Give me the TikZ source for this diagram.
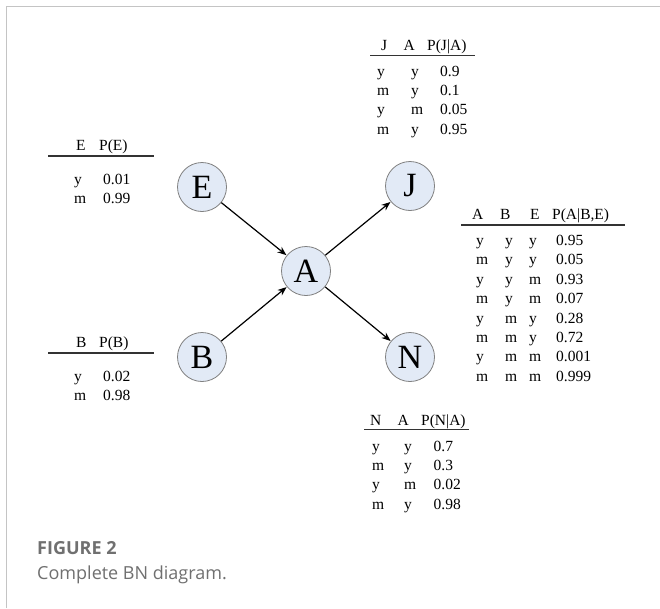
\documentclass[tikz,border=0pt]{standalone}
\usepackage{fontspec}
\setmainfont{Liberation Serif}
\newfontfamily\capfont{Open Sans}
\usetikzlibrary{arrows.meta}
\definecolor{nodefill}{HTML}{E2EAF6}
\definecolor{nodeline}{HTML}{808080}
\definecolor{framegray}{HTML}{C4C4C4}
\definecolor{capgray}{HTML}{707070}
\tikzset{
  bnnode/.style={circle, draw=nodeline, line width=0.8pt, fill=nodefill, minimum size=49pt, inner sep=0pt, font=\fontsize{34}{38}\selectfont},
  bnarrow/.style={line width=1.2pt, -{Stealth[length=9pt,width=7pt]}, shorten >=0.3pt},
  tabtext/.style={anchor=base west, inner sep=0pt, font=\fontsize{15.5}{19.4}\selectfont},
  tabrule/.style={line width=1.1pt, draw=black!80},
}
\newcommand\tcell[2]{\makebox[#1][l]{#2}}
\begin{document}
\begin{tikzpicture}[x=1pt,y=-1pt]
\useasboundingbox (0,0) rectangle (660,608);
\fill[white] (0,0) rectangle (660,608);
\draw[framegray, line width=1.2pt] (6.8,608) -- (6.8,6.8) -- (660,6.8);

% nodes
\node[bnnode] (E) at (202,187) {E};
\node[bnnode] (J) at (410,186) {J};
\node[bnnode] (A) at (306,271) {A};
\node[bnnode] (B) at (202,357) {B};
\node[bnnode] (N) at (410,357) {N};

\draw[bnarrow] (E) -- (A);
\draw[bnarrow] (B) -- (A);
\draw[bnarrow] (A) -- (J);
\draw[bnarrow] (A) -- (N);

% E table
\node[tabtext] (eh1) at (76,150) {E};
\node[tabtext] (eh2) at (99,150) {P(E)};
\draw[tabrule] (48,156) -- (154,156);
\node[tabtext] (eb) at (74,184) {\begin{tabular}[t]{@{}l@{}}
\tcell{29pt}{y}0.01\\
\tcell{29pt}{m}0.99
\end{tabular}};

% B table
\node[tabtext] (bh1) at (76,347) {B};
\node[tabtext] (bh2) at (99,347) {P(B)};
\draw[tabrule] (48,353) -- (154,353);
\node[tabtext] (bb) at (74,381) {\begin{tabular}[t]{@{}l@{}}
\tcell{29pt}{y}0.02\\
\tcell{29pt}{m}0.98
\end{tabular}};

% J table
\node[tabtext] (jh1) at (381,50.5) {J};
\node[tabtext] (jh2) at (403.5,50.5) {A};
\node[tabtext] (jh3) at (427,50.5) {P(J|A)};
\draw[tabrule] (370,55.5) -- (475,55.5);
\node[tabtext] (jb) at (377,76) {\begin{tabular}[t]{@{}l@{}}
\tcell{34pt}{y}\tcell{29pt}{y}0.9\\
\tcell{34pt}{m}\tcell{29pt}{y}0.1\\
\tcell{34pt}{y}\tcell{29pt}{m}0.05\\
\tcell{34pt}{m}\tcell{29pt}{y}0.95
\end{tabular}};

% A table
\node[tabtext] (ah1) at (472,219.5) {A};
\node[tabtext] (ah2) at (500,219.5) {B};
\node[tabtext] (ah3) at (530,219.5) {E};
\node[tabtext] (ah4) at (552,219.5) {P(A|B,E)};
\draw[tabrule] (461,225) -- (625,225);
\node[tabtext] (ab) at (476,245.5) {\begin{tabular}[t]{@{}l@{}}
\tcell{29pt}{y}\tcell{24pt}{y}\tcell{27pt}{y}0.95\\
\tcell{29pt}{m}\tcell{24pt}{y}\tcell{27pt}{y}0.05\\
\tcell{29pt}{y}\tcell{24pt}{y}\tcell{27pt}{m}0.93\\
\tcell{29pt}{m}\tcell{24pt}{y}\tcell{27pt}{m}0.07\\
\tcell{29pt}{y}\tcell{24pt}{m}\tcell{27pt}{y}0.28\\
\tcell{29pt}{m}\tcell{24pt}{m}\tcell{27pt}{y}0.72\\
\tcell{29pt}{y}\tcell{24pt}{m}\tcell{27pt}{m}0.001\\
\tcell{29pt}{m}\tcell{24pt}{m}\tcell{27pt}{m}0.999
\end{tabular}};

% N table
\node[tabtext] (nh1) at (370,425) {N};
\node[tabtext] (nh2) at (397.5,425) {A};
\node[tabtext] (nh3) at (421,425) {P(N|A)};
\draw[tabrule] (364,429.6) -- (469,429.6);
\node[tabtext] (nb) at (372,451) {\begin{tabular}[t]{@{}l@{}}
\tcell{32pt}{y}\tcell{29.5pt}{y}0.7\\
\tcell{32pt}{m}\tcell{29.5pt}{y}0.3\\
\tcell{32pt}{y}\tcell{29.5pt}{m}0.02\\
\tcell{32pt}{m}\tcell{29.5pt}{y}0.98
\end{tabular}};

% caption
\node[anchor=base west, inner sep=0pt, text=capgray, font=\capfont\bfseries\fontsize{18}{22}\selectfont] (fig) at (37,554) {FIGURE 2};
\node[anchor=base west, inner sep=0pt, text=capgray, font=\capfont\fontsize{18}{22}\selectfont] (cap) at (37,579) {Complete BN diagram.};
\end{tikzpicture}
\end{document}
